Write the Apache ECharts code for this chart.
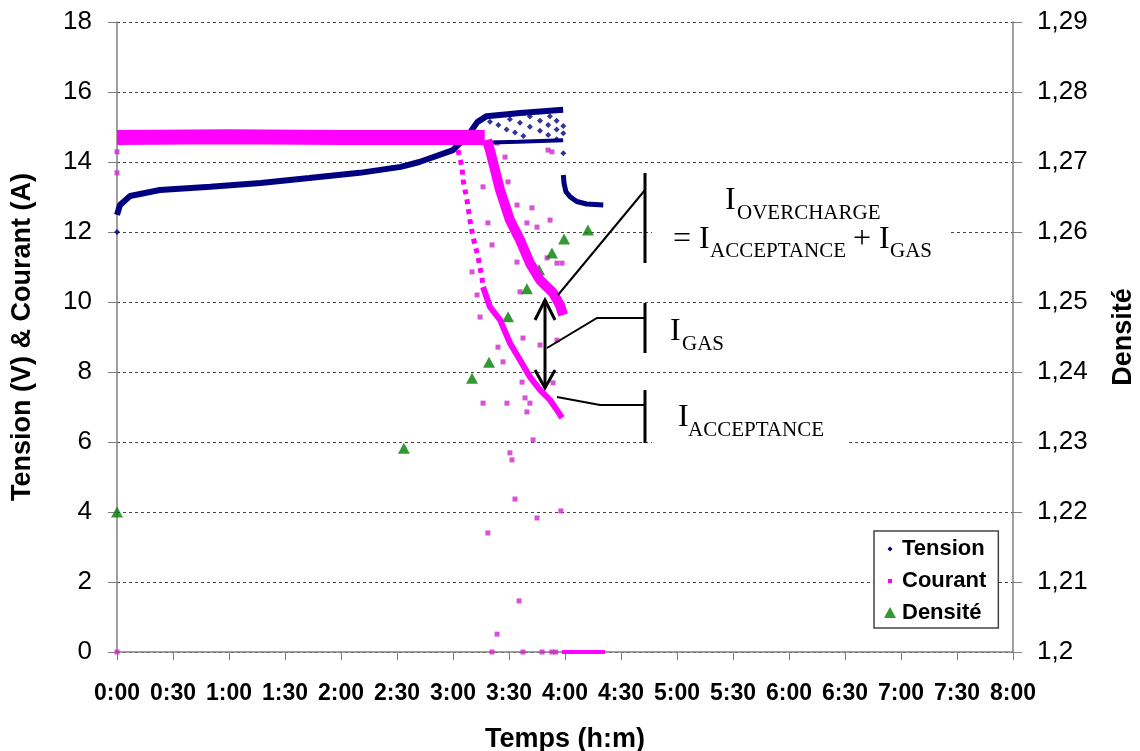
<!DOCTYPE html>
<html>
<head>
<meta charset="utf-8">
<script src="https://cdn.jsdelivr.net/npm/echarts@6/dist/echarts.min.js"></script>
<style>
  html, body {margin: 0; padding: 0; background: #fff;}
  #chart {width: 1140px; height: 751px;}
</style>
</head>
<body>
<div id="chart"></div>
<script>
// temps en minutes
const timeMax = 480
const timeStep = 30

const tensionStart = [[0, 12.0]]
const tensionCurve = [[0, 12.49], [1.6, 12.77], [7, 13.03], [23, 13.2], [50, 13.29], [77, 13.4], [103, 13.54],
    [130, 13.69], [152, 13.86], [162, 14.0], [180, 14.34], [189, 14.83], [193, 15.14], [198, 15.31],
    [216, 15.4], [239, 15.49]]
const tensionLow = [[191, 14.54], [200, 14.56], [215, 14.58], [239, 14.62]]
const tensionDots = [
    [199.8, 15.15], [204.3, 15.06], [208.7, 14.93], [213.2, 14.84], [217.7, 14.74],
    [210.5, 15.22], [215.9, 15.12], [221.2, 15.01], [226.6, 14.89], [231.0, 14.77], [235.5, 14.65],
    [221.2, 15.3], [226.6, 15.18], [231.0, 15.06], [235.5, 14.93], [239.1, 14.82],
    [231.9, 15.31], [235.5, 15.18], [239.1, 15.03], [239.1, 14.25]]
const tensionTail = [[239.1, 13.63], [239.5, 13.39], [240.5, 13.15], [242.7, 13.01], [246.3, 12.87],
    [251.6, 12.8], [260.5, 12.77]]

const courantBand = [[0, 14.7], [60, 14.72], [120, 14.7], [197, 14.7]]
const courantMain = [[198.2, 14.63], [199.8, 14.34], [205.2, 13.2], [210.5, 12.34], [215.9, 11.77],
    [221.2, 11.11], [226.6, 10.63], [233.6, 10.26], [237.3, 9.91], [239.0, 9.63]]
const courantBranchTop = [[182.7, 14.34], [184.8, 13.86], [185.4, 13.49], [187.5, 12.91], [189.1, 12.34],
    [190.7, 11.86], [193.4, 11.29], [195.5, 10.71], [196.1, 10.43]]
const courantBranchLow = [[196.1, 10.43], [199.8, 9.86], [205.2, 9.49], [210.5, 8.83], [215.9, 8.34],
    [221.2, 7.86], [226.6, 7.49], [232.0, 7.2], [235.7, 6.91], [238.4, 6.69]]
const courantDots = [
    [0, 14.29], [0, 13.69], [0, 0],
    [230.9, 14.34], [233.0, 14.29], [207.9, 14.14], [209.5, 13.43], [196.1, 13.29], [214.3, 12.77],
    [222.3, 12.69], [232.0, 12.34], [198.7, 12.26], [219.6, 12.26], [225.0, 12.14], [200.9, 11.63],
    [215.9, 11.86], [230.4, 11.26], [238.4, 11.11], [235.7, 11.11], [190.2, 10.86], [214.3, 11.14],
    [203.6, 14.54], [192.9, 10.2], [194.5, 9.57], [215.9, 10.29], [204.1, 8.71], [206.8, 8.29],
    [217.5, 8.97], [226.6, 8.77], [235.7, 8.91], [196.1, 7.11], [208.9, 7.11], [217.0, 7.71],
    [218.6, 7.26], [221.2, 7.11], [219.6, 6.86], [233.6, 7.69], [222.9, 6.06], [210.5, 5.69],
    [211.6, 5.49], [213.2, 4.37], [198.7, 3.4], [225.0, 3.83], [237.8, 4.03], [215.4, 1.46],
    [203.6, 0.51], [200.9, 0], [217.5, 0], [227.7, 0], [233.0, 0], [235.0, 0]]
const courantZero = [[238.4, 0], [261.4, 0]]

const densite = [[0, 1.22], [153.7, 1.2291], [190.2, 1.2391], [199.3, 1.2414], [209.5, 1.2479],
    [219.6, 1.2519], [226.1, 1.2546], [233.0, 1.257], [239.5, 1.259], [252.3, 1.2603]]

const SANS = '"Liberation Sans", Arial, sans-serif'
const SERIF = '"Liberation Serif", "Times New Roman", serif'
const NAVY = '#000080'
const PINK = '#ff00ff'
const GREEN = '#008000'

function hm(v) {
    const m = Math.round(v) % 60
    return Math.floor(Math.round(v) / 60) + ':' + (m < 10 ? '0' + m : m)
}

function txt(x, y, text, size) {
    return {
        type: 'text', x: x, y: y, z: 20,
        style: {text: text, fontSize: size, fontFamily: SERIF, fill: '#000', align: 'left', verticalAlign: 'middle'}
    }
}

function seg(points, width) {
    return {type: 'polyline', z: 20, shape: {points: points}, style: {stroke: '#000', lineWidth: width, fill: null}}
}

const lineSeries = (name, data, color, width, yIndex, dash) => ({
    name: name, type: 'line', data: data, yAxisIndex: yIndex || 0,
    showSymbol: false, symbol: 'none', smooth: false,
    itemStyle: {color: color},
    lineStyle: {color: color, width: width, type: dash || 'solid', cap: 'butt'}
})

const chart = echarts.init(document.getElementById('chart'))
chart.setOption({
    animation: false,
    backgroundColor: '#fff',
    grid: {left: 117, right: 127, top: 22, bottom: 99, outerBoundsMode: 'none', containLabel: false},
    legend: {
        orient: 'vertical', left: 874, top: 531,
        padding: [6, 12, 3, 9], itemGap: 8, itemWidth: 14, itemHeight: 14,
        backgroundColor: '#fff', borderColor: '#444', borderWidth: 1.5,
        itemStyle: {borderWidth: 0},
        textStyle: {fontFamily: SANS, fontWeight: 'bold', fontSize: 22, color: '#000', lineHeight: 24},
        data: [
            {name: 'Tension', icon: 'path://M0,0M14,14M7,4.5L9.5,7L7,9.5L4.5,7Z'},
            {name: 'Courant', icon: 'path://M0,0M14,14M5,5L9,5L9,9L5,9Z'},
            {name: 'Densité', icon: 'path://M0,0M14,14M7,1L13,12L1,12Z'}
        ]
    },
    xAxis: {
        type: 'value', min: 0, max: timeMax, interval: timeStep,
        name: 'Temps (h:m)', nameLocation: 'middle', nameGap: 74,
        nameTextStyle: {fontFamily: SANS, fontWeight: 'bold', fontSize: 27, color: '#000'},
        axisLine: {show: true, onZero: false, lineStyle: {color: '#808080', width: 1.5}},
        axisTick: {show: true, inside: false, length: 8, lineStyle: {color: '#808080'}},
        axisLabel: {formatter: hm, margin: 30, fontFamily: SANS, fontWeight: 'bold', fontSize: 23, color: '#000'},
        splitLine: {show: false}
    },
    yAxis: [{
        type: 'value', min: 0, max: 18, interval: 2, position: 'left',
        name: 'Tension (V) & Courant (A)', nameLocation: 'middle', nameGap: 81, nameRotate: 90,
        nameTextStyle: {fontFamily: SANS, fontWeight: 'bold', fontSize: 27, color: '#000'},
        axisLine: {show: true, lineStyle: {color: '#808080', width: 1.5}},
        axisTick: {show: true, inside: false, length: 9, lineStyle: {color: '#808080'}},
        axisLabel: {margin: 25, fontFamily: SANS, fontSize: 26, color: '#000'},
        splitLine: {show: true, lineStyle: {color: '#444', width: 1, type: [3, 3]}}
    }, {
        type: 'value', min: 1.2, max: 1.29, interval: 0.01, position: 'right',
        name: 'Densité', nameLocation: 'middle', nameGap: 97, nameRotate: 90,
        nameTextStyle: {fontFamily: SANS, fontWeight: 'bold', fontSize: 27, color: '#000'},
        axisLine: {show: true, lineStyle: {color: '#808080', width: 1.5}},
        axisTick: {show: true, inside: false, length: 9, lineStyle: {color: '#808080'}},
        axisLabel: {
            margin: 24, fontFamily: SANS, fontSize: 26, color: '#000',
            formatter: v => String(Math.round(v * 100) / 100).replace('.', ',')
        },
        splitLine: {show: false}
    }],
    series: [
        lineSeries('Tension', tensionCurve, NAVY, 6),
        lineSeries('Tension', tensionLow, NAVY, 4),
        lineSeries('Tension', tensionTail, NAVY, 5),
        {name: 'Tension', type: 'scatter', data: tensionDots.concat(tensionStart), symbol: 'diamond', symbolSize: 6,
            itemStyle: {color: NAVY}},
        lineSeries('Courant', courantBand, PINK, 15),
        lineSeries('Courant', courantMain, PINK, 10),
        lineSeries('Courant', courantBranchTop, PINK, 5, 0, [5, 5]),
        lineSeries('Courant', courantBranchLow, PINK, 6),
        lineSeries('Courant', courantZero, PINK, 4),
        {name: 'Courant', type: 'scatter', data: courantDots, symbol: 'rect', symbolSize: 5,
            itemStyle: {color: '#d024d0'}},
        {name: 'Densité', type: 'scatter', data: densite, yAxisIndex: 1, symbol: 'triangle', symbolSize: [12, 11],
            itemStyle: {color: GREEN}}
    ],
    graphic: {
        elements: [
            // fonds blancs derrière les textes
            {type: 'rect', z: 15, shape: {x: 652, y: 180, width: 298, height: 86}, style: {fill: '#fff'}},
            {type: 'rect', z: 15, shape: {x: 652, y: 414, width: 196, height: 34}, style: {fill: '#fff'}},
            // barres verticales et renvois
            seg([[645, 173], [645, 263]], 3),
            seg([[645, 190], [558, 295]], 2),
            seg([[645, 303], [645, 353]], 3),
            seg([[645, 318], [597, 318], [547, 348]], 2),
            seg([[645, 390], [645, 443]], 3),
            seg([[645, 405], [600, 405], [557, 397]], 2),
            // double flèche
            seg([[545, 300], [545, 388]], 3),
            seg([[535, 320], [545, 300], [555, 320]], 3),
            seg([[535, 370], [545, 388], [555, 370]], 3),
            // textes
            txt(725, 201, 'I', 32),
            txt(737, 213, 'OVERCHARGE', 21),
            txt(673, 240, '= I', 32),
            txt(710, 251, 'ACCEPTANCE', 21),
            txt(853, 240, '+ I', 32),
            txt(890, 251, 'GAS', 21),
            txt(670, 332, 'I', 32),
            txt(682, 344, 'GAS', 21),
            txt(678, 418, 'I', 32),
            txt(688, 430, 'ACCEPTANCE', 21)
        ]
    }
})
</script>
</body>
</html>
